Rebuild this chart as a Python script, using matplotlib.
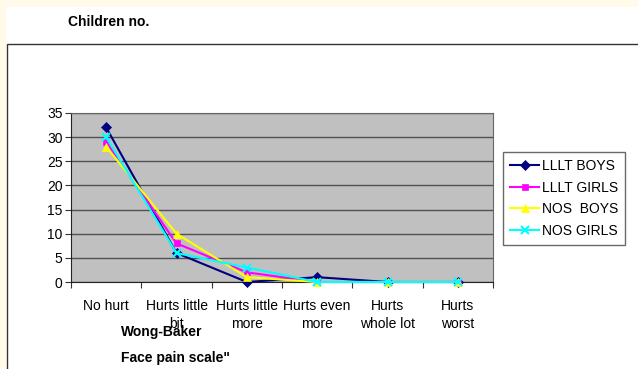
import matplotlib
matplotlib.use("Agg")
import matplotlib.pyplot as plt
from matplotlib.patches import Rectangle
import numpy as np

plt.rcParams["font.family"] = ["Liberation Sans", "DejaVu Sans"]

CATEGORIES = [
    "No hurt",
    "Hurts little\nbit",
    "Hurts little\nmore",
    "Hurts even\nmore",
    "Hurts\nwhole lot",
    "Hurts\nworst",
]
LLLT_BOYS = [32, 6, 0, 1, 0, 0]
LLLT_GIRLS = [29, 8, 2, 0, 0, 0]
NOS_BOYS = [28, 10, 1, 0, 0, 0]
NOS_GIRLS = [30, 6, 3, 0, 0, 0]

SERIES = (
    ("LLLT BOYS", LLLT_BOYS, "#000080", "D", 5),
    ("LLLT GIRLS", LLLT_GIRLS, "#ff00ff", "s", 5),
    ("NOS  BOYS", NOS_BOYS, "#ffff00", "^", 6),
    ("NOS GIRLS", NOS_GIRLS, "#00ffff", "x", 6),
)

W, H = 638, 369
fig = plt.figure(figsize=(W / 100, H / 100), dpi=100)
fig.patch.set_facecolor("#fffbe8")

# white page area and chart frame, kept behind the axes
fig.patches.append(Rectangle((6 / W, 0), 1, 1 - 7 / H, transform=fig.transFigure,
                             facecolor="white", edgecolor="none", zorder=-2))
fig.patches.append(Rectangle((7 / W, -0.1), 1, 1.1 - 44 / H, transform=fig.transFigure,
                             facecolor="white", edgecolor="#333333", linewidth=1.0, zorder=-1))

ax = fig.add_axes([71 / W, 1 - 282 / H, (493 - 71) / W, (282 - 113) / H])
ax.set_facecolor("#c0c0c0")

x = np.arange(len(CATEGORIES))
for label, values, color, marker, size in SERIES:
    ax.plot(x, values, color=color, marker=marker, markersize=size, linewidth=1.5,
            markeredgewidth=1.5 if marker == "x" else 0.5, label=label, clip_on=False, zorder=3)

ax.set_xlim(-0.5, len(CATEGORIES) - 0.5)
ax.set_ylim(0, 35)
ax.set_yticks(range(0, 36, 5))
ax.yaxis.grid(True, color="#505050", linewidth=1.0)
ax.set_axisbelow(True)
ax.set_xticks(np.arange(-0.5, len(CATEGORIES), 1.0))
ax.set_xticklabels([])
ax.set_xticks(x, minor=True)
ax.set_xticklabels(CATEGORIES, minor=True, fontsize=10, linespacing=1.4, va="top")
ax.tick_params(axis="x", which="minor", length=0, pad=12)
ax.tick_params(axis="x", which="major", length=4, color="#333333")
ax.tick_params(axis="y", labelsize=10, length=4, color="#333333", pad=2)
for side in ("left", "bottom"):
    ax.spines[side].set_color("#222222")
for side in ("top", "right"):
    ax.spines[side].set_color("#666666")

fig.legend(loc="upper left", bbox_to_anchor=(503 / W, 1 - 152 / H), fontsize=10,
           frameon=True, fancybox=False, edgecolor="#444444", handlelength=2.1,
           handletextpad=0.2, labelspacing=0.55, borderpad=0.5, borderaxespad=0)

fig.text(68 / W, 1 - 22 / H, "Children no.", fontsize=10, fontweight="bold", va="center")
fig.text(121 / W, 1 - 332 / H, "Wong-Baker", fontsize=10, fontweight="bold", va="center")
fig.text(121 / W, 1 - 358 / H, "Face pain scale\"", fontsize=10, fontweight="bold", va="center")

fig.savefig("out.png", dpi=100, facecolor=fig.get_facecolor())
